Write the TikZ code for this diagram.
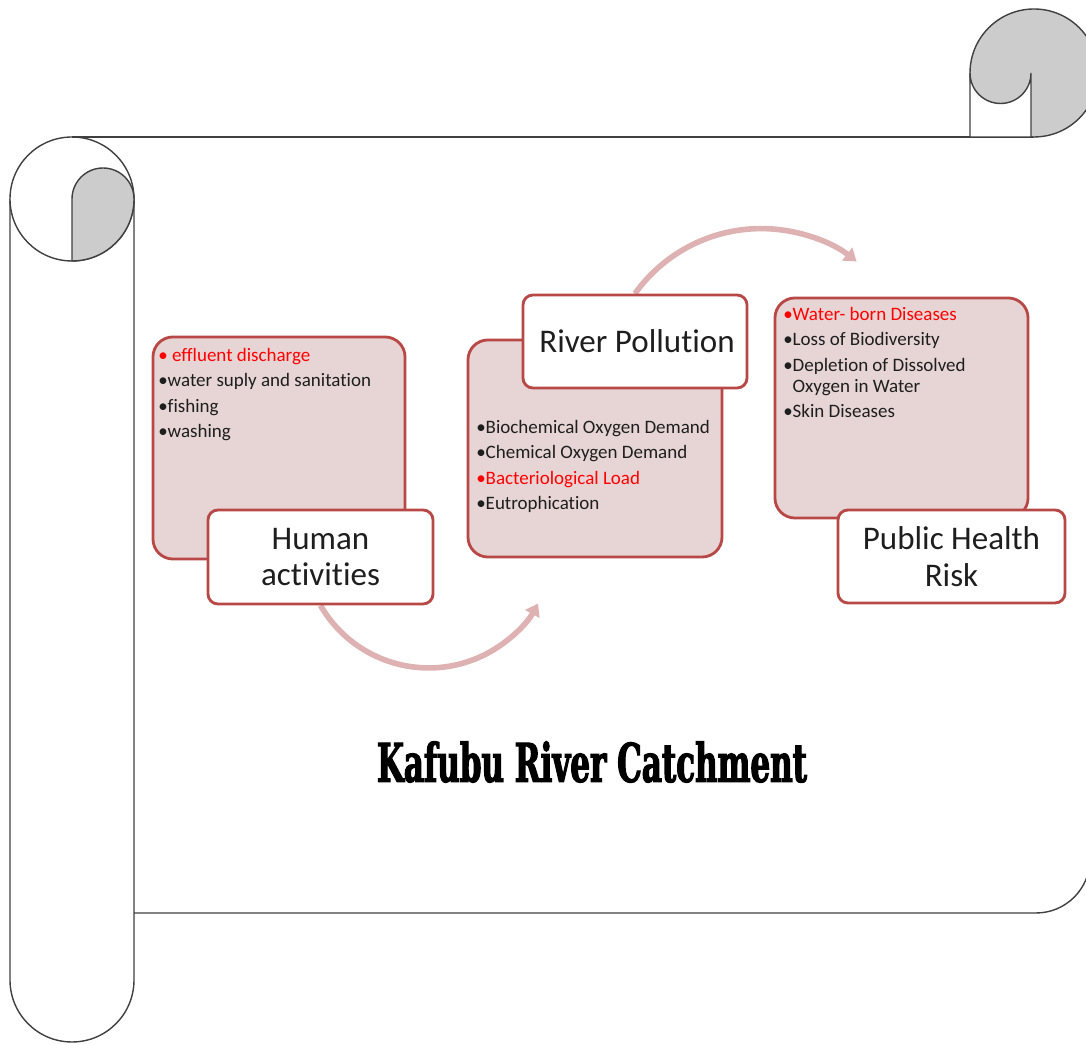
\documentclass[tikz,border=0pt]{standalone}
\usepackage{fontspec}
\setmainfont{Carlito}[Ligatures=NoCommon]
\newfontfamily\titlefont{DejaVu Serif}[FakeStretch=0.58, FakeBold=2]
\usetikzlibrary{arrows.meta,backgrounds}
\definecolor{scrollgray}{RGB}{204,204,204}
\definecolor{boxfill}{RGB}{231,213,213}
\definecolor{boxline}{RGB}{184,72,70}
\definecolor{flowpink}{RGB}{222,178,178}
\definecolor{hotred}{RGB}{255,0,0}
\definecolor{textdark}{RGB}{30,30,30}

\begin{document}
\begin{tikzpicture}[
    x=0.025cm, y=0.025cm,
    scroll/.style={draw=black!75, line width=1pt},
    listbox/.style={rectangle, draw=boxline, line width=2pt, fill=boxfill, rounded corners=0.5cm},
    labelbox/.style={rectangle, draw=boxline, line width=2pt, fill=white, rounded corners=0.25cm, align=center, font=\fontsize{23.5}{26}\selectfont, text=textdark},
    items/.style={anchor=north west, inner sep=0pt, align=left, font=\fontsize{13.5}{18}\selectfont, text=textdark},
    flow/.style={draw=flowpink, line width=4pt, -{Triangle[length=0.3cm, width=0.4cm]}}
]
\useasboundingbox (0,0) rectangle (1086,1045);

% Scroll
\draw[scroll, fill=white] (10,846) -- (10,65) arc[start angle=180, end angle=360, radius=62] -- (134,846);
\draw[scroll, fill=white] (72,846) circle[radius=62];
\draw[scroll, fill=scrollgray] (72,784) -- (72,846) arc[start angle=180, end angle=0, radius=31] arc[start angle=0, end angle=-90, radius=62] -- cycle;
\draw[scroll] (72,908) -- (1034,908);
\draw[scroll] (134,132) -- (1036,132) arc[start angle=-90, end angle=0, radius=54] -- (1090,960);
\draw[scroll, fill=scrollgray] (1034,972) circle[radius=64];
\draw[scroll, fill=white] (970,908) -- (970,972) arc[start angle=180, end angle=360, radius=30.5] -- (1031,908) -- cycle;

% Human activities
\node[listbox, minimum width=6.3cm, minimum height=5.55cm] (actbox) at (279,597) {};
\node[items] (actlist) at (158,697) {\textcolor{hotred}{• effluent discharge}\\•water suply and sanitation\\•fishing\\•washing};
\node[labelbox, minimum width=5.625cm, minimum height=2.35cm] (human) at (320.5,488) {Human\\activities};

% River pollution
\node[listbox, minimum width=6.35cm, minimum height=5.425cm] (polbox) at (595,596.5) {};
\node[items] (pollist) at (476,625) {•Biochemical Oxygen Demand\\•Chemical Oxygen Demand\\\textcolor{hotred}{•Bacteriological Load}\\•Eutrophication};
\node[labelbox, minimum width=5.6cm, minimum height=2.325cm] (river) at (635,703.5) {\hspace*{0.1cm}River Pollution};

% Public health risk
\node[listbox, minimum width=6.325cm, minimum height=5.5cm] (riskbox) at (901.5,637) {};
\node[items] (risklist) at (783,738) {\textcolor{hotred}{•Water- born Diseases}\\•Loss of Biodiversity\\•Depletion of Dissolved\\[-3pt]\phantom{•}Oxygen in Water\\•Skin Diseases};
\node[labelbox, minimum width=5.675cm, minimum height=2.325cm] (health) at (951.5,488.5) {Public Health\\Risk};

% Flow arrows
\begin{scope}[on background layer]
\draw[flow] (human.south) arc[start angle=210, end angle=331, radius=125];
\draw[flow] (river.north) arc[start angle=144.5, end angle=52, radius=155];
\end{scope}

% Title
\node[font=\titlefont\bfseries\fontsize{38}{44}\selectfont] (title) at (592,283) {Kafubu River Catchment};

\end{tikzpicture}
\end{document}
